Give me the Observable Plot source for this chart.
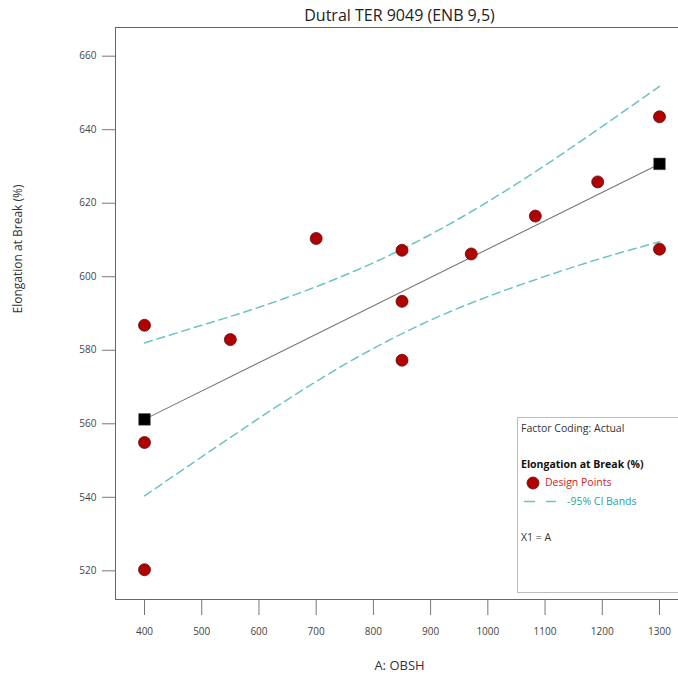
<!DOCTYPE html>
<html><head><meta charset="utf-8">
<script src="https://cdn.jsdelivr.net/npm/d3@7"></script>
<script src="https://cdn.jsdelivr.net/npm/@observablehq/plot@0.6"></script>
<style>
body{margin:0;background:#fff;font-family:"Open Sans",sans-serif}
#wrap{position:relative;width:678px;height:678px;overflow:hidden}
#legend{position:absolute;left:517px;top:417px;width:175px;height:176px;border:1px solid #bbb;box-sizing:border-box;font-size:10.5px;color:#333;background:#fff}
#legend .t{position:absolute;left:3px;line-height:14px;white-space:nowrap}
#legend svg{position:absolute;left:0;top:0}
</style></head><body><div id="wrap"></div>
<script>
// Design points
const pointsX = [400, 400, 400, 550, 700, 850, 850, 850, 971, 1083, 1192, 1300, 1300];
const pointsY = [586.8, 554.9, 520.3, 582.9, 610.4, 607.2, 593.3, 577.3, 606.2, 616.5, 625.8, 643.5, 607.5];
// Fitted line end points (squares)
const fitX = [400, 1300];
const fitY = [561.2, 630.7];
// 95% CI bands
const bandX = [400, 500, 600, 700, 800, 900, 1000, 1100, 1200, 1300];
const bandUpper = [582.0, 586.8, 591.7, 597.3, 603.8, 611.5, 620.4, 630.3, 640.9, 651.8];
const bandLower = [540.4, 551.0, 561.5, 571.5, 580.5, 588.2, 594.6, 600.1, 605.1, 609.5];
// Ticks
const xTicks = [400, 500, 600, 700, 800, 900, 1000, 1100, 1200, 1300];
const yTicks = [520, 540, 560, 580, 600, 620, 640, 660];
const xDomain = [349.3, 1333.2];
const yDomain = [512.2, 667.8];

const title = "Dutral TER 9049 (ENB 9,5)";
const xLabel = "A: OBSH";
const yLabel = "Elongation at Break (%)";

const points = pointsX.map((x, i) => ({x, y: pointsY[i]}));
const fit = fitX.map((x, i) => ({x, y: fitY[i]}));
const upper = bandX.map((x, i) => ({x, y: bandUpper[i]}));
const lower = bandX.map((x, i) => ({x, y: bandLower[i]}));

const teal = "#6cc3c3";
const chart = Plot.plot({
  width: 678, height: 678,
  marginLeft: 115, marginRight: 0, marginTop: 27, marginBottom: 79,
  style: {fontFamily: "Open Sans, sans-serif", overflow: "visible", background: "#fff"},
  x: {domain: xDomain},
  y: {domain: yDomain},
  marks: [
    Plot.ruleX([xDomain[0]], {stroke: "#666", strokeWidth: 1}),
    Plot.ruleY([yDomain[0]], {stroke: "#666", strokeWidth: 1}),
    Plot.ruleY([yDomain[1]], {stroke: "#666", strokeWidth: 1}),
    Plot.axisY(yTicks, {tickSize: 13, tickPadding: 6, fontSize: 10, stroke: "#777", fill: "#444", label: null, tickFormat: d => String(d)}),
    Plot.axisX(xTicks, {tickSize: 16, tickPadding: 12, fontSize: 10, stroke: "#777", fill: "#444", label: null, tickFormat: d => String(d)}),
    Plot.line(upper, {x: "x", y: "y", stroke: teal, strokeWidth: 1.5, strokeDasharray: "8,5", curve: "natural"}),
    Plot.line(lower, {x: "x", y: "y", stroke: teal, strokeWidth: 1.5, strokeDasharray: "8,5", curve: "natural"}),
    Plot.line(fit, {x: "x", y: "y", stroke: "#777", strokeWidth: 1.1}),
    Plot.dot(fit, {x: "x", y: "y", symbol: "square", r: 6.6, fill: "#000", stroke: "#555", strokeWidth: 0.5}),
    Plot.dot(points, {x: "x", y: "y", r: 6, fill: "#b00000", stroke: "#5a1010", strokeWidth: 0.8}),
    Plot.text([title], {frameAnchor: "top", lineAnchor: "middle", dx: 2.5, dy: -12, fontSize: 16, fill: "#222"}),
    Plot.text([xLabel], {frameAnchor: "bottom", lineAnchor: "middle", dx: 2.5, dy: 66, fontSize: 13, fill: "#333"}),
    Plot.text([yLabel], {frameAnchor: "left", dx: -97, rotate: -90, fontSize: 12, fill: "#333"})
  ]
});
const wrap = document.getElementById("wrap");
wrap.appendChild(chart);

const legend = document.createElement("div");
legend.id = "legend";
legend.innerHTML = `
<svg width="175" height="176">
  <circle cx="15" cy="65" r="6" fill="#b00000" stroke="#5a1010" stroke-width="0.8"/>
  <line x1="6" y1="83.5" x2="17" y2="83.5" stroke="${teal}" stroke-width="1.5"/>
  <line x1="28" y1="83.5" x2="38" y2="83.5" stroke="${teal}" stroke-width="1.5"/>
</svg>
<div class="t" style="top:3px">Factor Coding: Actual</div>
<div class="t" style="top:39px;font-weight:bold;color:#111">Elongation at Break (%)</div>
<div class="t" style="top:57px;left:27px;color:#c62828">Design Points</div>
<div class="t" style="top:76px;left:49px;color:#2fa0a0">-95% CI Bands</div>
<div class="t" style="top:112px">X1 = A</div>`;
wrap.appendChild(legend);
</script></body></html>
